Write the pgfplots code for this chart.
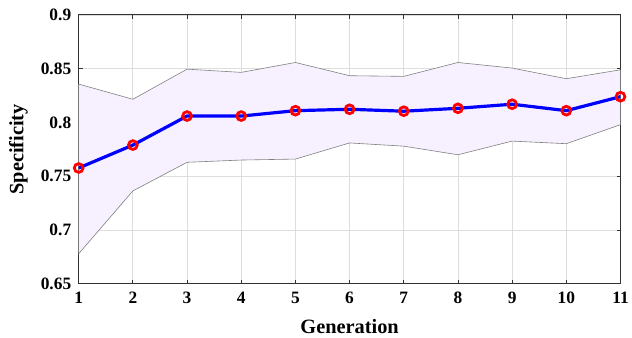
\documentclass[border=0pt]{standalone}
\usepackage{fontspec}
\setmainfont{Liberation Serif}
\usepackage{pgfplots}
\pgfplotsset{compat=1.18}
\usepgfplotslibrary{fillbetween}
\definecolor{bandfill}{RGB}{247,241,255}
\definecolor{bandedge}{RGB}{128,128,128}
\begin{document}
\begin{tikzpicture}
\begin{axis}[
  at={(0,0)}, anchor=south west,
  scale only axis,
  width=544bp, height=270bp,
  xmin=1, xmax=11, ymin=0.65, ymax=0.9,
  xtick={1,...,11},
  ytick={0.65,0.7,0.75,0.8,0.85,0.9},
  yticklabels={0.65,0.7,0.75,0.8,0.85,0.9},
  tick align=inside,
  major tick length=4bp,
  grid=major,
  grid style={color=black!13, line width=0.8bp},
  axis line style={color=black!80, line width=0.9bp},
  tick style={color=black!80, line width=0.9bp},
  /pgf/number format/assume math mode=true,
  ticklabel style={font=\fontsize{17.5}{20}\selectfont\bfseries},
  xticklabel style={yshift=-5bp},
  yticklabel style={xshift=-4bp},
  xlabel={Generation}, ylabel={Specificity},
  label style={font=\fontsize{20.5}{24}\selectfont\bfseries},
  xlabel style={at={(axis description cs:0.5,0)}, anchor=center, yshift=-43bp},
  ylabel style={at={(axis description cs:0,0.5)}, anchor=center, rotate=0, xshift=0bp},
  every axis y label/.append style={at={(-60.5bp,135bp)}},
]
\addplot[name path=upper, draw=none] coordinates {
(1,0.8357) (2,0.8216) (3,0.8496) (4,0.8466) (5,0.8558) (6,0.8435) (7,0.8429) (8,0.8558) (9,0.8506) (10,0.8407) (11,0.849)};
\addplot[name path=lower, draw=none] coordinates {
(1,0.678) (2,0.7364) (3,0.763) (4,0.7651) (5,0.766) (6,0.781) (7,0.778) (8,0.770) (9,0.7827) (10,0.7803) (11,0.798)};
\addplot[bandfill] fill between[of=upper and lower];
\addplot[bandedge, line width=0.6bp] coordinates {
(1,0.8357) (2,0.8216) (3,0.8496) (4,0.8466) (5,0.8558) (6,0.8435) (7,0.8429) (8,0.8558) (9,0.8506) (10,0.8407) (11,0.849)};
\addplot[bandedge, line width=0.6bp] coordinates {
(1,0.678) (2,0.7364) (3,0.763) (4,0.7651) (5,0.766) (6,0.781) (7,0.778) (8,0.770) (9,0.7827) (10,0.7803) (11,0.798)};
\addplot[blue, line width=3.2bp, mark=o, mark size=4.4bp,
  mark options={draw=red, line width=2.8bp, fill=none}] coordinates {
(1,0.7577) (2,0.779) (3,0.806) (4,0.806) (5,0.811) (6,0.8123) (7,0.8105) (8,0.8132) (9,0.817) (10,0.811) (11,0.824)};
\end{axis}
\path[use as bounding box] (-79bp,-54bp) rectangle (553bp,285bp);
\end{tikzpicture}
\end{document}
